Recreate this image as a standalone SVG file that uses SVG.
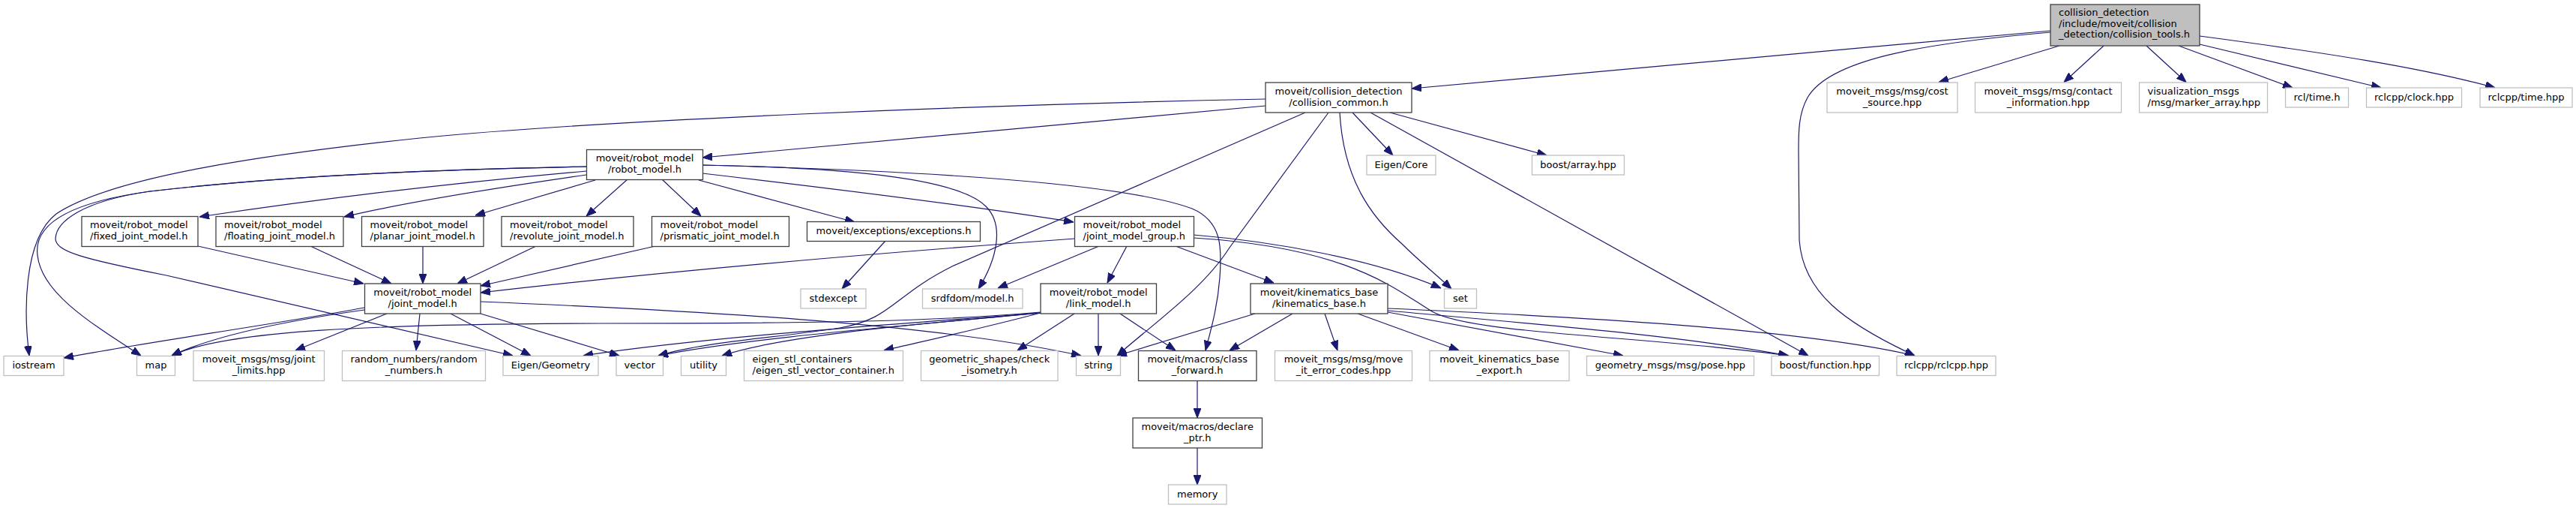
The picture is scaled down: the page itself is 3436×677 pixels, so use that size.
<svg xmlns="http://www.w3.org/2000/svg" width="3436" height="677" viewBox="0 0 3436 677">
<style>
.n rect{fill:#fff;stroke:#404040;stroke-width:1.3}
.x rect{fill:#fff;stroke:#bfbfbf;stroke-width:1.3}
.m rect{fill:#bfbfbf;stroke:#404040;stroke-width:1.3}
text{font-family:"DejaVu Sans","Liberation Sans",sans-serif;font-size:13px;fill:#000}
.c{text-anchor:middle}
#edges path{fill:none;stroke:#191970;stroke-width:1.2;marker-end:url(#ah)}
</style>
<defs>
<marker id="ah" markerUnits="userSpaceOnUse" viewBox="0 0 13 10" refX="13" refY="5" markerWidth="13" markerHeight="10" orient="auto">
<path d="M0,0 L13,5 L0,10 z" fill="#191970" stroke="#191970" stroke-width="1"/>
</marker>
</defs>
<rect width="3436" height="677" fill="#fff"/>
<g id="edges">
<path d="M2735,41 L1883,118"/>
<path d="M2747,61 L2586,109.5"/>
<path d="M2806,61 L2753,109.5"/>
<path d="M2863,61 L2916,109.5"/>
<path d="M2906,61 L3058,117"/>
<path d="M2934,59 L3176,117"/>
<path d="M2934,48 C3100,70 3230,90 3328,117"/>
<path d="M2735,43 C2560,58 2440,80 2411,130 C2399,152 2399,175 2399,200 L2400,320 C2405,390 2460,430 2554,474"/>
<path d="M1688,141 L937,210"/>
<path d="M1688,132 C1300,140 800,160 560,184 C360,205 150,235 75,285 C30,320 32,420 39,474"/>
<path d="M1804,150 L1858,207"/>
<path d="M1854,150 L2063,207"/>
<path d="M1787,150 C1792,240 1830,290 1870,325 C1895,350 1915,365 1936,385"/>
<path d="M1828,150 L2412,474"/>
<path d="M1741,150 C1600,210 1400,300 1270,355 C1190,395 1190,425 1120,437 C1040,450 940,455 878,474"/>
<path d="M1772,150 L1640,330 C1605,385 1540,430 1490,474"/>
<path d="M782,222 C600,226 400,232 200,255 C90,270 45,300 50,340 C55,390 120,430 188,474"/>
<path d="M782,222 C600,226 400,232 200,255 C110,268 75,295 74,318 C74,335 110,345 222,367 L684,474"/>
<path d="M782,228 C600,244 420,266 266,289"/>
<path d="M782,233 C650,252 530,272 459,289"/>
<path d="M794,240 L634,287"/>
<path d="M837,239 L782,288"/>
<path d="M883,239 L935,288"/>
<path d="M932,240 L1140,296"/>
<path d="M937,231 C1100,250 1300,275 1432,296"/>
<path d="M937,220 C1150,224 1280,240 1315,275 C1340,300 1330,345 1305,385"/>
<path d="M937,220 C1250,228 1500,245 1590,278 C1630,295 1630,330 1627,370 C1624,410 1615,440 1608,467"/>
<path d="M264,328 L485,378"/>
<path d="M414,328 L522,378"/>
<path d="M564,328 L564,378"/>
<path d="M715,328 L610,378"/>
<path d="M874,328 L641,381"/>
<path d="M1434,318 C1200,335 900,360 641,390"/>
<path d="M1181,321 L1123,385"/>
<path d="M486,410 C350,435 200,455 85,477"/>
<path d="M486,413 C400,425 290,445 229,474"/>
<path d="M516,418 L394,467"/>
<path d="M560,418 L555,467"/>
<path d="M601,418 L708,474"/>
<path d="M641,418 L826,474"/>
<path d="M641,402 C950,415 1250,432 1442,474"/>
<path d="M1465,418 L1465,474"/>
<path d="M1494,418 L1568,467"/>
<path d="M1433,418 L1357,467"/>
<path d="M1388,417 C1300,440 1230,455 1179,467"/>
<path d="M1388,416 C1250,428 1100,431 800,431 C500,432 300,440 229,474"/>
<path d="M1388,417 C1200,432 950,448 778,474"/>
<path d="M1388,417 C1200,435 1000,450 878,474"/>
<path d="M1388,417 C1250,430 1050,445 963,474"/>
<path d="M1767,418 L1784,467"/>
<path d="M1811,418 L1946,467"/>
<path d="M1851,416 L2165,474"/>
<path d="M1851,411 C2100,422 2400,438 2554,474"/>
<path d="M1851,414 C2050,432 2250,448 2385,474"/>
<path d="M1674,418 L1490,474"/>
<path d="M1724,418 L1640,467"/>
<path d="M1466,328 L1331,384"/>
<path d="M1503,328 L1477,377"/>
<path d="M1568,328 L1699,377"/>
<path d="M1592,313 C1700,322 1830,345 1922,384"/>
<path d="M1592,317 C1800,330 1860,385 1910,415 C1960,445 2200,448 2386,474"/>
<path d="M1597,507 L1597,557"/>
<path d="M1597,597 L1597,646"/>
</g>
<g id="n_collision_tools" class="m"><rect x="2735" y="6" width="199" height="55"/><text x="2746" y="21">collision_detection</text><text x="2746" y="35.7">/include/moveit/collision</text><text x="2746" y="50.4">_detection/collision_tools.h</text></g>
<g id="n_collision_common" class="n"><rect x="1688" y="110" width="195" height="40"/><text class="c" x="1785.5" y="125.7">moveit/collision_detection</text><text class="c" x="1785.5" y="140.7">/collision_common.h</text></g>
<g id="n_cost_source" class="x"><rect x="2437" y="110" width="174" height="40"/><text class="c" x="2524" y="125.7">moveit_msgs/msg/cost</text><text class="c" x="2524" y="140.7">_source.hpp</text></g>
<g id="n_contact_information" class="x"><rect x="2634.5" y="110" width="195" height="40"/><text class="c" x="2732" y="125.7">moveit_msgs/msg/contact</text><text class="c" x="2732" y="140.7">_information.hpp</text></g>
<g id="n_marker_array" class="x"><rect x="2853.5" y="110" width="171" height="40"/><text x="2864.5" y="125.7">visualization_msgs</text><text x="2864.5" y="140.7">/msg/marker_array.hpp</text></g>
<g id="n_rcl_time" class="x"><rect x="3048.5" y="117" width="84" height="26"/><text class="c" x="3090.5" y="133.5">rcl/time.h</text></g>
<g id="n_rclcpp_clock" class="x"><rect x="3156.5" y="117" width="127" height="26"/><text class="c" x="3220" y="133.5">rclcpp/clock.hpp</text></g>
<g id="n_rclcpp_time" class="x"><rect x="3308" y="117" width="123" height="26"/><text class="c" x="3369.5" y="133.5">rclcpp/time.hpp</text></g>
<g id="n_robot_model" class="n"><rect x="782.5" y="199.5" width="155" height="40"/><text class="c" x="860" y="215.2">moveit/robot_model</text><text class="c" x="860" y="230.2">/robot_model.h</text></g>
<g id="n_eigen_core" class="x"><rect x="1823" y="207" width="92" height="26"/><text class="c" x="1869" y="223.5">Eigen/Core</text></g>
<g id="n_boost_array" class="x"><rect x="2043.5" y="207" width="123" height="26"/><text class="c" x="2105" y="223.5">boost/array.hpp</text></g>
<g id="n_fixed" class="n"><rect x="109" y="288.5" width="155" height="40"/><text x="120" y="304.2">moveit/robot_model</text><text x="120" y="319.2">/fixed_joint_model.h</text></g>
<g id="n_floating" class="n"><rect x="288" y="288.5" width="170" height="40"/><text x="299" y="304.2">moveit/robot_model</text><text x="299" y="319.2">/floating_joint_model.h</text></g>
<g id="n_planar" class="n"><rect x="482.5" y="288.5" width="162.5" height="40"/><text x="493.5" y="304.2">moveit/robot_model</text><text x="493.5" y="319.2">/planar_joint_model.h</text></g>
<g id="n_revolute" class="n"><rect x="669" y="288.5" width="176" height="40"/><text x="680" y="304.2">moveit/robot_model</text><text x="680" y="319.2">/revolute_joint_model.h</text></g>
<g id="n_prismatic" class="n"><rect x="869.5" y="288.5" width="183" height="40"/><text x="880.5" y="304.2">moveit/robot_model</text><text x="880.5" y="319.2">/prismatic_joint_model.h</text></g>
<g id="n_exceptions" class="n"><rect x="1076.5" y="295.5" width="231" height="26"/><text class="c" x="1192" y="312">moveit/exceptions/exceptions.h</text></g>
<g id="n_joint_model_group" class="n"><rect x="1433.5" y="288.5" width="159" height="40"/><text x="1444.5" y="304.2">moveit/robot_model</text><text x="1444.5" y="319.2">/joint_model_group.h</text></g>
<g id="n_joint_model" class="n"><rect x="486.5" y="378" width="154.5" height="40"/><text class="c" x="563.7" y="393.7">moveit/robot_model</text><text class="c" x="563.7" y="408.7">/joint_model.h</text></g>
<g id="n_stdexcept" class="x"><rect x="1068" y="385" width="87" height="26"/><text class="c" x="1111.5" y="401.5">stdexcept</text></g>
<g id="n_srdfdom" class="x"><rect x="1230.5" y="385" width="133.5" height="26"/><text class="c" x="1297.2" y="401.5">srdfdom/model.h</text></g>
<g id="n_link_model" class="n"><rect x="1388" y="378" width="154.5" height="40"/><text class="c" x="1465.2" y="393.7">moveit/robot_model</text><text class="c" x="1465.2" y="408.7">/link_model.h</text></g>
<g id="n_kinematics_base" class="n"><rect x="1668" y="378" width="183" height="40"/><text class="c" x="1759.5" y="393.7">moveit/kinematics_base</text><text class="c" x="1759.5" y="408.7">/kinematics_base.h</text></g>
<g id="n_set" class="x"><rect x="1926.5" y="385" width="43" height="26"/><text class="c" x="1948" y="401.5">set</text></g>
<g id="n_iostream" class="x"><rect x="5" y="474.5" width="80" height="26"/><text class="c" x="45" y="491">iostream</text></g>
<g id="n_map" class="x"><rect x="182.5" y="474.5" width="51" height="26"/><text class="c" x="208" y="491">map</text></g>
<g id="n_joint_limits" class="x"><rect x="258" y="467.5" width="174.5" height="40"/><text class="c" x="345.2" y="483.2">moveit_msgs/msg/joint</text><text class="c" x="345.2" y="498.2">_limits.hpp</text></g>
<g id="n_random_numbers" class="x"><rect x="456.5" y="467.5" width="191" height="40"/><text class="c" x="552" y="483.2">random_numbers/random</text><text class="c" x="552" y="498.2">_numbers.h</text></g>
<g id="n_eigen_geometry" class="x"><rect x="671" y="474.5" width="127" height="26"/><text class="c" x="734.5" y="491">Eigen/Geometry</text></g>
<g id="n_vector" class="x"><rect x="822" y="474.5" width="62.5" height="26"/><text class="c" x="853.2" y="491">vector</text></g>
<g id="n_utility" class="x"><rect x="908.5" y="474.5" width="60" height="26"/><text class="c" x="938.5" y="491">utility</text></g>
<g id="n_eigen_stl" class="x"><rect x="992.5" y="467.5" width="212" height="40"/><text x="1003.5" y="483.2">eigen_stl_containers</text><text x="1003.5" y="498.2">/eigen_stl_vector_container.h</text></g>
<g id="n_check_isometry" class="x"><rect x="1228.5" y="467.5" width="182.5" height="40"/><text class="c" x="1319.7" y="483.2">geometric_shapes/check</text><text class="c" x="1319.7" y="498.2">_isometry.h</text></g>
<g id="n_string" class="x"><rect x="1435.5" y="474.5" width="59" height="26"/><text class="c" x="1465" y="491">string</text></g>
<g id="n_class_forward" class="n"><rect x="1518.5" y="467.5" width="157.5" height="40"/><text class="c" x="1597.2" y="483.2">moveit/macros/class</text><text class="c" x="1597.2" y="498.2">_forward.h</text></g>
<g id="n_declare_ptr" class="n"><rect x="1511" y="557" width="172.5" height="40"/><text class="c" x="1597.2" y="572.7">moveit/macros/declare</text><text class="c" x="1597.2" y="587.7">_ptr.h</text></g>
<g id="n_memory" class="x"><rect x="1558.5" y="646" width="77.5" height="26"/><text class="c" x="1597.2" y="662.5">memory</text></g>
<g id="n_error_codes" class="x"><rect x="1700.5" y="467.5" width="183" height="40"/><text class="c" x="1792" y="483.2">moveit_msgs/msg/move</text><text class="c" x="1792" y="498.2">_it_error_codes.hpp</text></g>
<g id="n_kb_export" class="x"><rect x="1907" y="467.5" width="186" height="40"/><text class="c" x="2000" y="483.2">moveit_kinematics_base</text><text class="c" x="2000" y="498.2">_export.h</text></g>
<g id="n_pose" class="x"><rect x="2116.5" y="474.5" width="223" height="26"/><text class="c" x="2228" y="491">geometry_msgs/msg/pose.hpp</text></g>
<g id="n_boost_function" class="x"><rect x="2363" y="474.5" width="143.5" height="26"/><text class="c" x="2434.7" y="491">boost/function.hpp</text></g>
<g id="n_rclcpp" class="x"><rect x="2530" y="474.5" width="132" height="26"/><text class="c" x="2596" y="491">rclcpp/rclcpp.hpp</text></g>
</svg>
